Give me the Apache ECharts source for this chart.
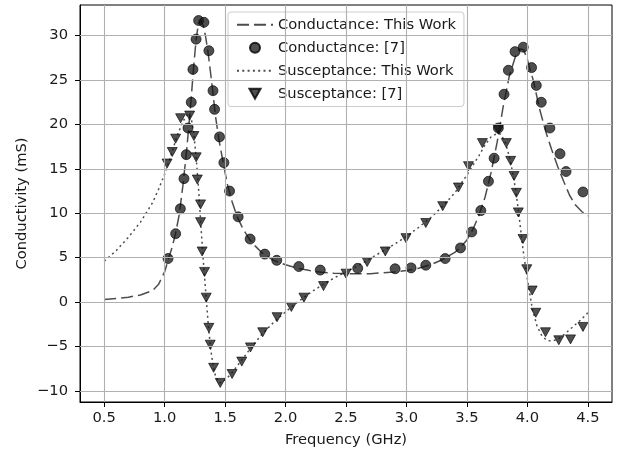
<!DOCTYPE html>
<html>
<head>
<meta charset="utf-8">
<script src="https://cdn.jsdelivr.net/npm/echarts@6/dist/echarts.min.js"></script>
<style>html,body{margin:0;padding:0;background:#fff}#c{width:624px;height:450px}</style>
</head>
<body>
<div id="c"></div>
<script>
// Tick labels
const xTicks = [0.5, 1.0, 1.5, 2.0, 2.5, 3.0, 3.5, 4.0, 4.5];
const yTicks = [-10, -5, 0, 5, 10, 15, 20, 25, 30];

// Conductance: This Work (model curve) [GHz, mS]
const condModel = [
  [0.5,0.3],[0.6,0.4],[0.7,0.55],[0.8,0.8],[0.9,1.3],[0.95,2.0],[1.0,3.4],[1.03,4.8],
  [1.06,6.1],[1.09,7.7],[1.12,9.8],[1.15,13.0],[1.18,16.8],[1.2,19.8],[1.22,23.0],
  [1.24,26.5],[1.26,29.5],[1.28,31.4],[1.30,31.7],[1.32,31.1],[1.34,29.8],[1.36,28.0],
  [1.38,25.8],[1.40,23.5],[1.42,21.0],[1.45,18.2],[1.48,16.0],[1.52,13.2],[1.56,11.2],
  [1.60,9.6],[1.65,8.2],[1.70,7.1],[1.75,6.3],[1.80,5.6],[1.90,4.7],[2.0,4.2],[2.1,3.8],
  [2.2,3.55],[2.3,3.35],[2.4,3.25],[2.5,3.2],[2.6,3.2],[2.7,3.2],[2.8,3.3],[2.9,3.4],
  [3.0,3.55],[3.1,3.8],[3.2,4.2],[3.3,4.8],[3.4,5.6],[3.45,6.2],[3.5,7.0],[3.55,8.2],
  [3.6,9.8],[3.65,11.8],[3.70,14.6],[3.75,18.0],[3.80,22.0],[3.85,25.4],[3.90,27.6],
  [3.94,28.5],[3.97,28.4],[4.00,27.3],[4.05,24.9],[4.10,21.8],[4.15,19.3],[4.20,17.2],
  [4.25,15.3],[4.30,13.6],[4.35,12.0],[4.40,10.9],[4.45,10.2],[4.50,9.7]
];

// Conductance: [7] (measured points)
const condRef = [
  [1.028,4.9],[1.091,7.7],[1.13,10.5],[1.16,13.9],[1.179,16.6],[1.193,19.6],[1.22,22.5],
  [1.234,26.2],[1.26,29.6],[1.281,31.7],[1.325,31.5],[1.366,28.3],[1.40,23.8],[1.413,21.7],
  [1.454,18.6],[1.49,15.7],[1.537,12.5],[1.608,9.6],[1.707,7.1],[1.828,5.4],[1.927,4.7],
  [2.11,4.0],[2.287,3.6],[2.597,3.8],[2.906,3.75],[3.038,3.85],[3.16,4.15],[3.32,4.9],
  [3.447,6.1],[3.54,7.9],[3.615,10.3],[3.678,13.6],[3.725,16.2],[3.76,19.6],[3.807,23.4],
  [3.843,26.1],[3.898,28.2],[3.966,28.7],[4.035,26.4],[4.074,24.4],[4.115,22.5],
  [4.186,19.6],[4.27,16.7],[4.32,14.7],[4.46,12.4]
];

// Susceptance: This Work (model curve)
const suscModel = [
  [0.5,4.6],[0.6,5.8],[0.7,7.3],[0.8,9.0],[0.9,11.2],[0.95,12.7],[1.0,14.4],[1.05,16.4],
  [1.10,18.6],[1.15,20.3],[1.18,21.0],[1.20,21.2],[1.22,20.7],[1.24,19.1],[1.26,16.4],
  [1.28,12.9],[1.30,8.6],[1.32,4.6],[1.34,1.1],[1.36,-2.4],[1.38,-5.2],[1.40,-7.1],
  [1.42,-8.3],[1.45,-9.1],[1.48,-9.0],[1.52,-8.5],[1.56,-7.9],[1.60,-7.2],[1.65,-6.3],
  [1.70,-5.4],[1.80,-3.7],[1.90,-2.3],[2.0,-1.1],[2.1,0.0],[2.2,1.0],[2.3,1.9],[2.4,2.7],
  [2.5,3.4],[2.6,4.1],[2.7,4.9],[2.8,5.7],[2.9,6.5],[3.0,7.4],[3.1,8.4],[3.2,9.5],
  [3.3,10.8],[3.4,12.3],[3.5,14.3],[3.6,16.5],[3.65,17.7],[3.70,18.6],[3.75,19.0],
  [3.78,18.9],[3.82,17.9],[3.86,15.9],[3.90,12.9],[3.93,9.9],[3.96,6.3],[4.00,2.6],
  [4.04,-0.7],[4.08,-2.7],[4.12,-3.8],[4.16,-4.3],[4.20,-4.4],[4.25,-4.2],[4.30,-3.7],
  [4.35,-3.1],[4.40,-2.5],[4.45,-1.9],[4.50,-1.2]
];

// Susceptance: [7] (measured points)
const suscRef = [
  [1.02,15.6],[1.063,16.9],[1.091,18.4],[1.132,20.7],[1.207,21.0],[1.242,18.7],[1.261,16.3],
  [1.27,13.8],[1.297,11.0],[1.297,9.0],[1.31,5.7],[1.33,3.4],[1.344,0.5],[1.366,-2.9],
  [1.377,-4.8],[1.405,-7.4],[1.46,-9.1],[1.558,-8.1],[1.638,-6.7],[1.71,-5.1],[1.811,-3.4],
  [1.93,-1.7],[2.048,-0.55],[2.152,0.5],[2.314,1.8],[2.50,3.2],[2.675,4.5],[2.825,5.7],
  [2.996,7.2],[3.16,8.9],[3.30,10.8],[3.43,12.9],[3.513,15.3],[3.628,17.9],[3.76,19.4],
  [3.826,17.9],[3.862,15.9],[3.89,14.2],[3.909,12.3],[3.925,10.1],[3.964,7.1],[3.995,3.7],
  [4.04,1.3],[4.07,-1.2],[4.15,-3.4],[4.26,-4.3],[4.357,-4.2],[4.46,-2.8]
];

const FONT = 'DejaVu Sans';
const FS = 14.7;
const TXT = '#1a1a1a';
const MARK = 'rgba(20,20,20,0.75)';
const chart = echarts.init(document.getElementById('c'), null, {renderer: 'canvas'});

const gridLines = xTicks.map(v => ({xAxis: v})).concat(yTicks.map(v => ({yAxis: v})));
const noSym = {color: 'rgba(0,0,0,0)', borderColor: 'rgba(0,0,0,0)', borderWidth: 0};

chart.setOption({
  animation: false,
  backgroundColor: '#fff',
  textStyle: {fontFamily: FONT},
  grid: {left: 80, right: 12, top: 5, bottom: 48, show: true, borderColor: '#000', borderWidth: 1,
    backgroundColor: 'transparent', containLabel: false, outerBoundsMode: 'none'},
  xAxis: {
    type: 'value', min: 0.3, max: 4.7,
    name: 'Frequency (GHz)', nameLocation: 'middle', nameGap: 31, nameMoveOverlap: false,
    nameTextStyle: {fontFamily: FONT, fontSize: FS, color: TXT},
    axisLine: {show: true, onZero: false, lineStyle: {color: '#000', width: 1}},
    axisTick: {show: true, inside: false, length: 5, customValues: xTicks, lineStyle: {color: '#000', width: 1}},
    axisLabel: {customValues: xTicks, margin: 9, fontFamily: FONT, fontSize: FS, color: TXT,
      formatter: v => v.toFixed(1)},
    splitLine: {show: false}
  },
  yAxis: {
    type: 'value', min: -11.25, max: 33.45,
    name: 'Conductivity (mS)', nameLocation: 'middle', nameGap: 50, nameMoveOverlap: false,
    nameTextStyle: {fontFamily: FONT, fontSize: FS, color: TXT},
    axisLine: {show: true, onZero: false, lineStyle: {color: '#000', width: 1}},
    axisTick: {show: true, inside: false, length: 5, customValues: yTicks, lineStyle: {color: '#000', width: 1}},
    axisLabel: {customValues: yTicks, margin: 12, fontFamily: FONT, fontSize: FS, color: TXT,
      formatter: v => (v < 0 ? '\u2212' + Math.abs(v) : String(v))},
    splitLine: {show: false}
  },
  legend: {
    show: true, orient: 'vertical', left: 228, top: 12,
    data: [
      {name: 'Conductance: This Work', itemStyle: noSym},
      {name: 'Conductance: [7]', icon: 'circle'},
      {name: 'Susceptance: This Work', itemStyle: noSym},
      {name: 'Susceptance: [7]', icon: 'path://M0,0 L10,0 L5,9 Z'}
    ],
    backgroundColor: 'rgba(255,255,255,0.85)', borderColor: '#cccccc', borderWidth: 1, borderRadius: 3,
    padding: [5, 8, 5, 8], itemWidth: 36, itemHeight: 10, itemGap: 7.5, symbolKeepAspect: true,
    textStyle: {fontFamily: FONT, fontSize: FS, color: TXT, lineHeight: 15.5}
  },
  series: [
    {
      name: 'grid', type: 'line', data: [], z: 0, silent: true,
      markLine: {silent: true, symbol: ['none', 'none'], label: {show: false},
        lineStyle: {color: '#b0b0b0', width: 1.1, type: 'solid'}, emphasis: {disabled: true},
        data: gridLines, animation: false}
    },
    {
      name: 'Conductance: This Work', type: 'line', data: condModel, symbol: 'none', z: 3,
      lineStyle: {color: 'rgba(0,0,0,0.7)', width: 1.5, type: [12, 5]},
      itemStyle: {color: 'rgba(0,0,0,0.7)'}
    },
    {
      name: 'Conductance: [7]', type: 'scatter', data: condRef, symbol: 'circle', symbolSize: 10, z: 4,
      itemStyle: {color: MARK, borderColor: 'rgba(0,0,0,0.8)', borderWidth: 0.8, opacity: 1}
    },
    {
      name: 'Susceptance: This Work', type: 'line', data: suscModel, symbol: 'none', z: 3,
      lineStyle: {color: 'rgba(0,0,0,0.7)', width: 1.5, type: [2, 3.3]},
      itemStyle: {color: 'rgba(0,0,0,0.7)'}
    },
    {
      name: 'Susceptance: [7]', type: 'scatter', data: suscRef, symbol: 'triangle', symbolRotate: 180, symbolSize: [10, 9], z: 4,
      itemStyle: {color: MARK, borderColor: 'rgba(0,0,0,0.8)', borderWidth: 0.8, opacity: 1}
    }
  ]
});
</script>
</body>
</html>
